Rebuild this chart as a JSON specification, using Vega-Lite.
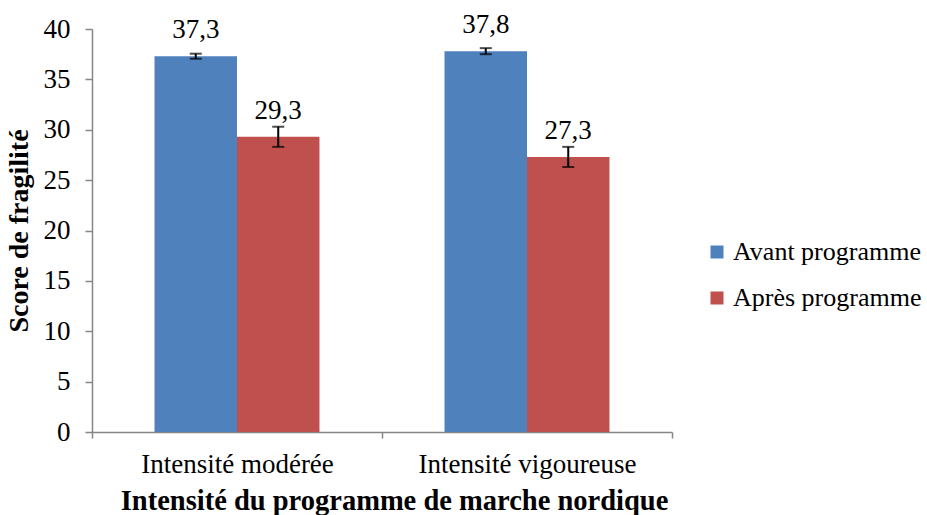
{
  "$schema": "https://vega.github.io/schema/vega-lite/v6.json",
  "width": 580,
  "height": 403,
  "autosize": "none",
  "padding": {"left": 92, "top": 29, "right": 255, "bottom": 83},
  "background": "white",
  "config": {
    "view": {"stroke": null},
    "font": "Liberation Serif",
    "locale": {"number": {"decimal": ",", "thousands": "\u00a0", "grouping": [3], "currency": ["", " €"]}},
    "axis": {"labelFont": "Liberation Serif", "titleFont": "Liberation Serif", "labelColor": "black", "titleColor": "black", "domainColor": "#868686", "tickColor": "#868686", "grid": false, "domainWidth": 1.5, "tickWidth": 1.5}
  },
  "data": {"values": [
    {"group": "Intensité modérée", "phase": "Avant programme", "value": 37.3, "lo": 37.05, "hi": 37.55},
    {"group": "Intensité modérée", "phase": "Après programme", "value": 29.3, "lo": 28.3, "hi": 30.3},
    {"group": "Intensité vigoureuse", "phase": "Avant programme", "value": 37.8, "lo": 37.5, "hi": 38.1},
    {"group": "Intensité vigoureuse", "phase": "Après programme", "value": 27.3, "lo": 26.3, "hi": 28.3}
  ]},
  "encoding": {
    "x": {"field": "group", "type": "nominal", "sort": ["Intensité modérée", "Intensité vigoureuse"],
      "scale": {"paddingInner": 0, "paddingOuter": 0},
      "axis": {"title": "Intensité du programme de marche nordique", "labelAngle": 0, "tickBand": "extent", "tickSize": 6, "labelFontSize": 27, "labelPadding": 13, "labelLimit": 400, "titleFontSize": 28.5, "titleFontWeight": "bold", "titlePadding": 9, "titleX": 302}},
    "xOffset": {"field": "phase", "type": "nominal", "sort": ["Avant programme", "Après programme"], "scale": {"paddingInner": 0, "paddingOuter": 0.758}}
  },
  "layer": [
    {
      "mark": {"type": "bar"},
      "encoding": {
        "y": {"field": "value", "type": "quantitative", "scale": {"domain": [0, 40]},
          "axis": {"title": "Score de fragilité", "values": [0, 5, 10, 15, 20, 25, 30, 35, 40], "tickSize": 7, "labelFontSize": 27, "labelPadding": 15, "titleFontSize": 28, "titleFontWeight": "bold", "titlePadding": 10}},
        "color": {"field": "phase", "type": "nominal", "sort": ["Avant programme", "Après programme"],
          "scale": {"domain": ["Avant programme", "Après programme"], "range": ["#4F81BD", "#C0504D"]},
          "legend": {"title": null, "orient": "none", "legendX": 612, "legendY": 210, "symbolType": "square", "symbolSize": 169, "symbolStrokeWidth": 0, "labelFontSize": 26, "labelFont": "Liberation Serif", "labelColor": "black", "labelOffset": 3, "rowPadding": 20, "padding": 0, "labelLimit": 400}}
      }
    },
    {
      "mark": {"type": "rule", "color": "black", "strokeWidth": 2},
      "encoding": {"y": {"field": "lo", "type": "quantitative"}, "y2": {"field": "hi"}}
    },
    {
      "mark": {"type": "tick", "color": "black", "thickness": 2, "size": 12},
      "encoding": {"y": {"field": "lo", "type": "quantitative"}}
    },
    {
      "mark": {"type": "tick", "color": "black", "thickness": 2, "size": 12},
      "encoding": {"y": {"field": "hi", "type": "quantitative"}}
    },
    {
      "mark": {"type": "text", "baseline": "alphabetic", "dy": -18, "fontSize": 27, "font": "Liberation Serif", "color": "black"},
      "encoding": {"y": {"field": "value", "type": "quantitative"}, "text": {"field": "value", "type": "quantitative", "format": ".1f"}}
    }
  ]
}
